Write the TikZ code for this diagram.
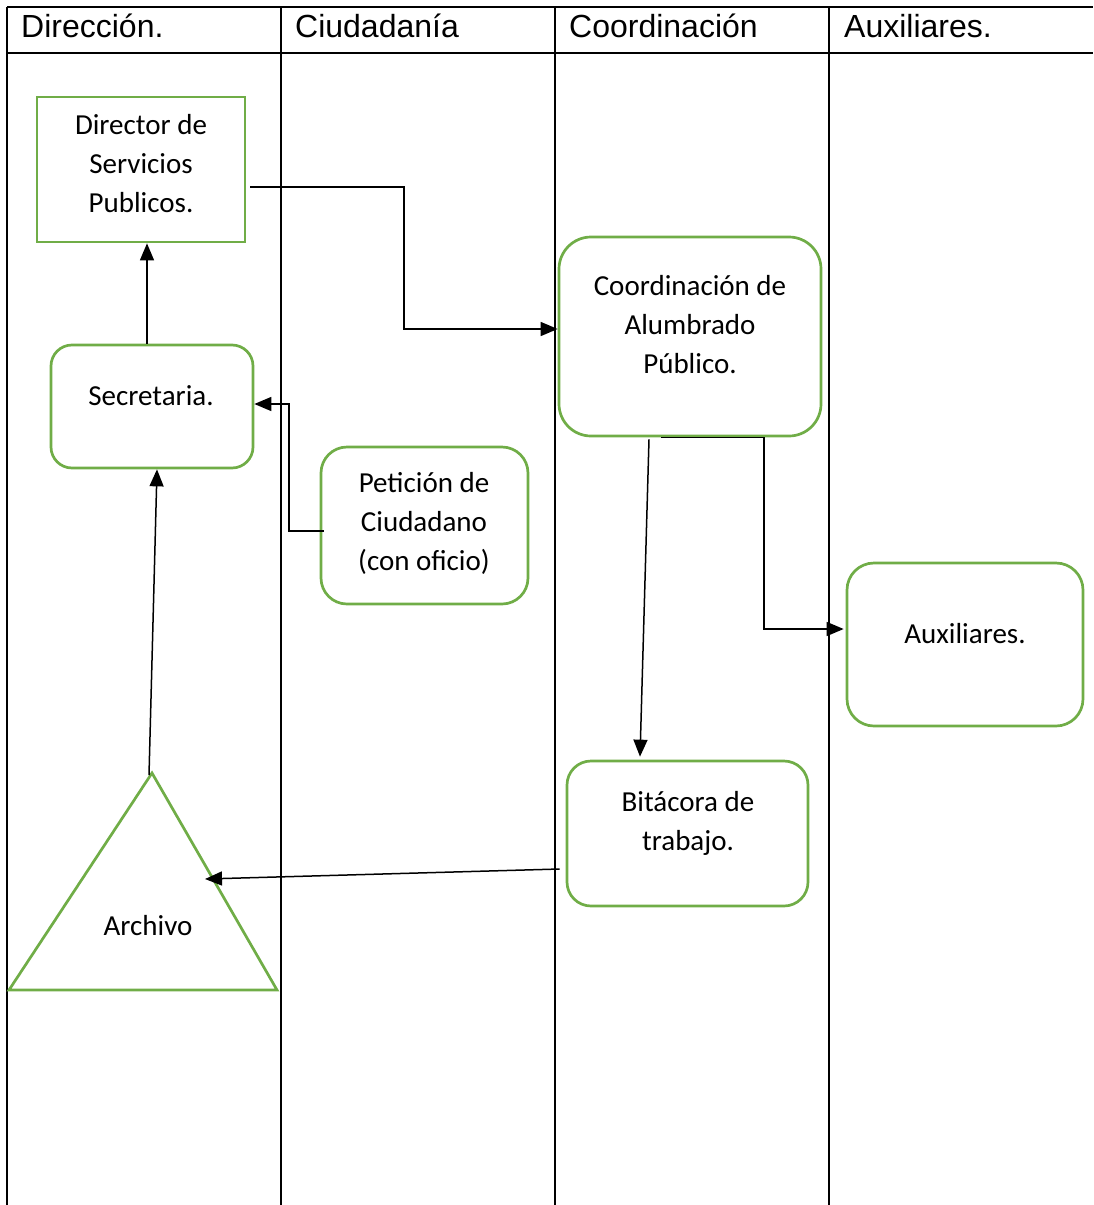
\documentclass[tikz,border=0pt]{standalone}
\usepackage{fontspec}
\setmainfont{Carlito}
\newfontfamily\hdrfont{Liberation Sans}
\usetikzlibrary{arrows.meta,calc}
\definecolor{boxgreen}{HTML}{70AD47}
\newcommand\lnstrut{\rule[-12pt]{0pt}{39pt}}
\begin{document}
\begin{tikzpicture}[x=1pt,y=-1pt,
  gridline/.style={line width=2pt,black},
  hdr/.style={anchor=base west,inner sep=0pt,font=\hdrfont\fontsize{32}{36}\selectfont},
  sharpbox/.style={draw=boxgreen,line width=2.7pt,inner sep=0pt},
  roundbox/.style={draw=boxgreen,line width=2.7pt,inner sep=0pt},
  lbl/.style={inner sep=0pt,align=center,font=\fontsize{29}{39}\selectfont},
  conn/.style={line width=1.5pt,black},
  arr/.style={conn,-{Triangle[length=17pt,width=14pt]}}]
\useasboundingbox (0,0) rectangle (1093,1205);
% table
\draw[gridline] (7,7) -- (1093,7);
\draw[gridline] (7,53) -- (1093,53);
\draw[gridline] (7,7) -- (7,1205);
\draw[gridline] (281,7) -- (281,1205);
\draw[gridline] (555,7) -- (555,1205);
\draw[gridline] (829,7) -- (829,1205);
\node[hdr] (h1) at (21,37) {Dirección.};
\node[hdr] (h2) at (295,37) {Ciudadanía};
\node[hdr] (h3) at (569,37) {Coordinación};
\node[hdr] (h4) at (844,37) {Auxiliares.};
% shapes
\node[sharpbox,minimum width=208pt,minimum height=145pt] (dir) at (141,169.5) {};
\node[roundbox,rounded corners=21pt,minimum width=202pt,minimum height=123pt] (sec) at (152,406.5) {};
\node[roundbox,rounded corners=26pt,minimum width=207pt,minimum height=157pt] (pet) at (424.5,525.5) {};
\node[roundbox,rounded corners=32pt,minimum width=262pt,minimum height=199pt] (coo) at (690,336.5) {};
\node[roundbox,rounded corners=27pt,minimum width=236pt,minimum height=163pt] (aux) at (965,644.5) {};
\node[roundbox,rounded corners=24pt,minimum width=241pt,minimum height=145pt] (bit) at (687.5,833.5) {};
\coordinate (triA) at (152,773);
\coordinate (triB) at (277,990);
\coordinate (triC) at (9,990);
\draw[draw=boxgreen,line width=2.7pt,line join=miter] (triA) -- (triB) -- (triC) -- cycle;
\coordinate (archtop) at (149,775);
\coordinate (archin) at (205,879);
% texts
\node[lbl] (tdir) at (141,166) {\lnstrut Director de\\\lnstrut Servicios\\\lnstrut Publicos.};
\node[lbl] (tsec) at (151,397.5) {\lnstrut Secretaria.};
\node[lbl] (tpet) at (424,524) {\lnstrut Petición de\\\lnstrut Ciudadano\\\lnstrut (con oficio)};
\node[lbl] (tcoo) at (690,327) {\lnstrut Coordinación de\\\lnstrut Alumbrado\\\lnstrut Público.};
\node[lbl] (taux) at (965,635.5) {\lnstrut Auxiliares.};
\node[lbl] (tbit) at (688,823.5) {\lnstrut Bitácora de\\\lnstrut trabajo.};
\node[lbl] (tarch) at (148,927.5) {\lnstrut Archivo};
% connectors
\coordinate (c1a) at ([xshift=4pt,yshift=-17.5pt]dir.east);
\coordinate (c1b) at ([yshift=7.5pt]coo.west);
\draw[arr] (c1a) -| ($(c1a)!0.5!(c1b)$) |- (c1b);
\draw[arr] ([xshift=-5pt]sec.north) -- ([xshift=-5pt]sec.north |- dir.south);
\coordinate (c3a) at ([xshift=4pt,yshift=-5.5pt]pet.west);
\coordinate (c3b) at ([yshift=2.5pt]sec.east);
\draw[arr] (c3a) -| ($(c3a)!0.5!(c3b)$) |- (c3b);
\draw[arr] ([xshift=-41pt,yshift=-2pt]coo.south) -- ([xshift=-47.5pt,yshift=3pt]bit.north);
\draw[arr] ([xshift=-29pt]coo.south) -- ([xshift=74pt]coo.south) |- ([xshift=-2pt,yshift=15.5pt]aux.west);
\draw[arr] ([xshift=-6pt,yshift=-35.5pt]bit.west) -- (archin);
\draw[arr] (archtop) -- ([xshift=5pt]sec.south);
\end{tikzpicture}
\end{document}
